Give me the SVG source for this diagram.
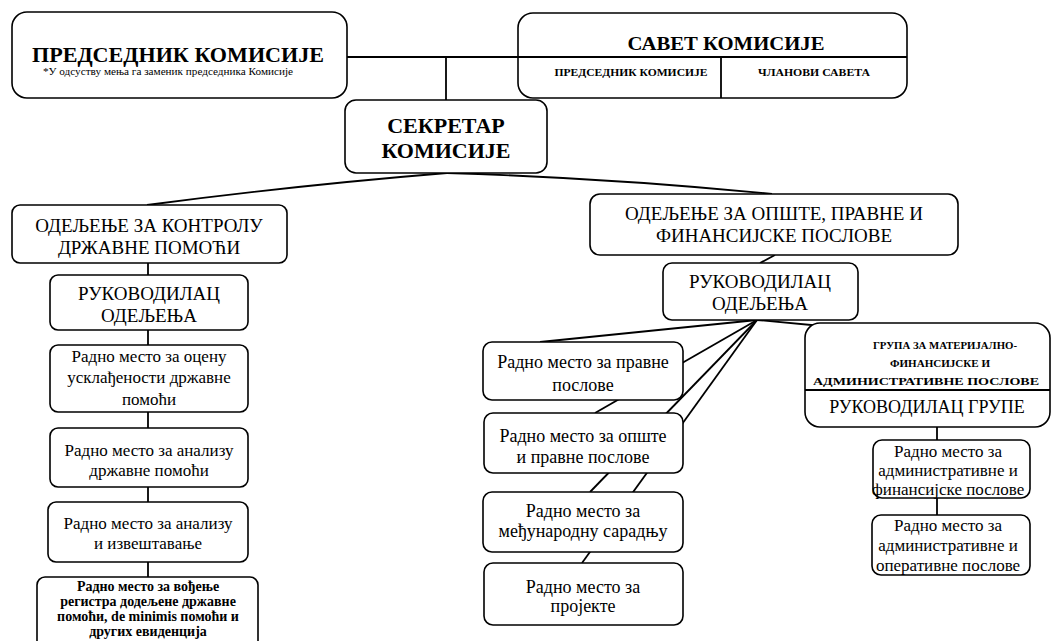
<svg xmlns="http://www.w3.org/2000/svg" width="1054" height="641" viewBox="0 0 1054 641">
<style>
.box{fill:#fff;stroke:#000;stroke-width:1.6}
.ln{fill:none;stroke:#000;stroke-width:1.8}
text{font-family:"Liberation Serif",Tinos,"Noto Serif","DejaVu Serif",FreeSerif,"Nimbus Roman","Times New Roman",Times,serif;fill:#000;text-anchor:middle}
.b{font-weight:bold}
.t20{font-size:22px}
.t18{font-size:19px}
.t17{font-size:18px}
.t16{font-size:17px}
.t14{font-size:14px}
</style>
<rect width="1054" height="641" fill="#fff"/>
<g id="connectors">
<line class="ln" x1="347" y1="57" x2="518" y2="57"/>
<line class="ln" x1="446" y1="57" x2="446" y2="100"/>
<path class="ln" d="M447 173 Q300 185 147 205"/>
<path class="ln" d="M447 173 Q610 178 772 194"/>
<line class="ln" x1="148" y1="263" x2="148" y2="275"/>
<line class="ln" x1="148" y1="330" x2="148" y2="345"/>
<line class="ln" x1="148" y1="412" x2="148" y2="428"/>
<line class="ln" x1="148" y1="487" x2="148" y2="502"/>
<line class="ln" x1="148" y1="562" x2="148" y2="577"/>
<line class="ln" x1="775" y1="255" x2="760" y2="263"/>
<line class="ln" x1="757" y1="320" x2="540" y2="342"/>
<line class="ln" x1="757" y1="320" x2="595" y2="413"/>
<line class="ln" x1="757" y1="320" x2="590" y2="492"/>
<line class="ln" x1="757" y1="320" x2="582" y2="563"/>
<line class="ln" x1="757" y1="320" x2="822" y2="326"/>
<line class="ln" x1="937" y1="427" x2="937" y2="440"/>
<line class="ln" x1="937" y1="498" x2="937" y2="515"/>
</g>
<g id="predsednik">
<rect class="box" x="12" y="12" width="335" height="86" rx="15"/>
<text class="b" x="178" y="62" font-size="22" textLength="292" lengthAdjust="spacingAndGlyphs">ПРЕДСЕДНИК КОМИСИЈЕ</text>
<text x="168" y="75" font-size="9.5" textLength="250" lengthAdjust="spacingAndGlyphs">*У одсуству мења га заменик председника Комисије</text>
</g>
<g id="savet">
<rect class="box" x="518" y="13" width="389" height="85" rx="15"/>
<line class="ln" x1="518" y1="57" x2="907" y2="57"/>
<line class="ln" x1="721" y1="57" x2="721" y2="98"/>
<text class="b" x="726" y="50" font-size="19" textLength="197" lengthAdjust="spacingAndGlyphs">САВЕТ КОМИСИЈЕ</text>
<text class="b" x="631" y="76" font-size="10" textLength="153" lengthAdjust="spacingAndGlyphs">ПРЕДСЕДНИК КОМИСИЈЕ</text>
<text class="b" x="814" y="76" font-size="10" textLength="112" lengthAdjust="spacingAndGlyphs">ЧЛАНОВИ САВЕТА</text>
</g>
<g id="sekretar">
<rect class="box" x="345" y="100" width="202" height="73" rx="11"/>
<text class="b t20" x="446" y="133">СЕКРЕТАР</text>
<text class="b t20" x="446" y="158">КОМИСИЈЕ</text>
</g>
<g id="odeljenje-kontrola">
<rect class="box" x="12" y="205" width="275" height="58" rx="8"/>
<text class="t18" x="149" y="232">ОДЕЉЕЊЕ ЗА КОНТРОЛУ</text>
<text class="t18" x="149" y="254">ДРЖАВНЕ ПОМОЋИ</text>
</g>
<g id="rukovodilac-kontrola">
<rect class="box" x="50" y="275" width="198" height="55" rx="8"/>
<text class="t18" x="149" y="300">РУКОВОДИЛАЦ</text>
<text class="t18" x="149" y="322">ОДЕЉЕЊА</text>
</g>
<g id="rm-ocena">
<rect class="box" x="50" y="345" width="198" height="67" rx="8"/>
<text class="t16" x="149" y="362">Радно место за оцену</text>
<text class="t16" x="149" y="383">усклађености државне</text>
<text class="t16" x="149" y="405">помоћи</text>
</g>
<g id="rm-analiza">
<rect class="box" x="50" y="428" width="198" height="59" rx="8"/>
<text class="t16" x="149" y="456">Радно место за анализу</text>
<text class="t16" x="149" y="476">државне помоћи</text>
</g>
<g id="rm-izvestavanje">
<rect class="box" x="48" y="502" width="200" height="60" rx="8"/>
<text class="t16" x="148" y="529">Радно место за анализу</text>
<text class="t16" x="148" y="549">и извештавање</text>
</g>
<g id="rm-registar">
<rect class="box" x="37" y="577" width="221" height="80" rx="8"/>
<text class="b t14" x="148" y="591">Радно место за вођење</text>
<text class="b t14" x="148" y="606">регистра додељене државне</text>
<text class="b t14" x="148" y="621">помоћи, de minimis помоћи и</text>
<text class="b t14" x="148" y="636">других евиденција</text>
</g>
<g id="odeljenje-opste">
<rect class="box" x="590" y="194" width="368" height="61" rx="10"/>
<text class="t18" x="774" y="220">ОДЕЉЕЊЕ ЗА ОПШТЕ, ПРАВНЕ И</text>
<text class="t18" x="774" y="242">ФИНАНСИЈСКЕ ПОСЛОВЕ</text>
</g>
<g id="rukovodilac-opste">
<rect class="box" x="663" y="263" width="195" height="57" rx="9"/>
<text class="t18" x="760" y="288">РУКОВОДИЛАЦ</text>
<text class="t18" x="760" y="310">ОДЕЉЕЊА</text>
</g>
<g id="rm-pravne">
<rect class="box" x="483" y="342" width="200" height="58" rx="9"/>
<text class="t17" x="583" y="368">Радно место за правне</text>
<text class="t17" x="583" y="391">послове</text>
</g>
<g id="rm-opste-pravne">
<rect class="box" x="484" y="413" width="199" height="60" rx="9"/>
<text class="t17" x="583" y="442">Радно место за опште</text>
<text class="t17" x="583" y="463">и правне послове</text>
</g>
<g id="rm-medjunarodna">
<rect class="box" x="483" y="492" width="200" height="60" rx="9"/>
<text class="t17" x="583" y="517">Радно место за</text>
<text class="t17" x="583" y="537">међународну сарадњу</text>
</g>
<g id="rm-projekti">
<rect class="box" x="484" y="563" width="199" height="62" rx="9"/>
<text class="t17" x="583" y="593">Радно место за</text>
<text class="t17" x="583" y="612">пројекте</text>
</g>
<g id="grupa">
<rect class="box" x="805" y="323" width="245" height="104" rx="15"/>
<line class="ln" x1="805" y1="390" x2="1050" y2="390"/>
<text class="b" x="945" y="349" font-size="11" textLength="144" lengthAdjust="spacingAndGlyphs">ГРУПА ЗА МАТЕРИЈАЛНО-</text>
<text class="b" x="940" y="367" font-size="11" textLength="100" lengthAdjust="spacingAndGlyphs">ФИНАНСИЈСКЕ И</text>
<text class="b" x="926" y="385" font-size="11" textLength="226" lengthAdjust="spacingAndGlyphs">АДМИНИСТРАТИВНЕ ПОСЛОВЕ</text>
<text class="t17" x="927" y="413">РУКОВОДИЛАЦ ГРУПЕ</text>
</g>
<g id="rm-admin-fin">
<rect class="box" x="873" y="440" width="157" height="58" rx="9"/>
<text class="t16" x="948" y="457">Радно место за</text>
<text class="t16" x="948" y="476">административне и</text>
<text class="t16" x="948" y="495">финансијске послове</text>
</g>
<g id="rm-admin-oper">
<rect class="box" x="872" y="515" width="158" height="60" rx="9"/>
<text class="t16" x="948" y="531">Радно место за</text>
<text class="t16" x="948" y="551">административне и</text>
<text class="t16" x="948" y="571">оперативне послове</text>
</g>
</svg>
